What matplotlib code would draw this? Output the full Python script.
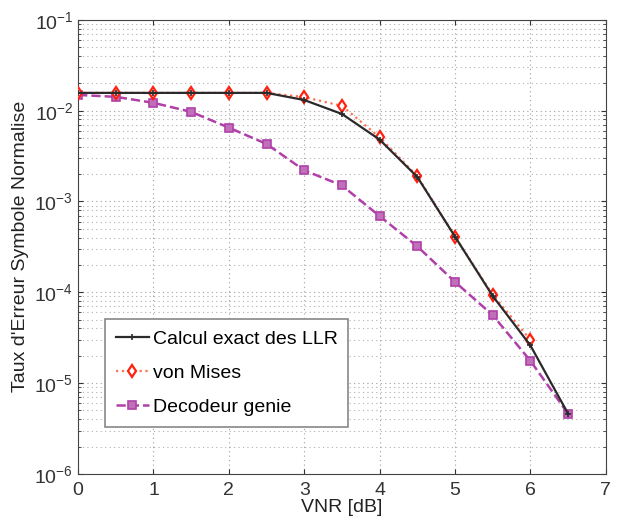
import numpy as np
import matplotlib.pyplot as plt

plt.rcParams['font.family'] = ['Liberation Sans', 'DejaVu Sans']

vnr = [0, 0.5, 1, 1.5, 2, 2.5, 3, 3.5, 4, 4.5, 5, 5.5, 6, 6.5]
exact = [0.0157, 0.0157, 0.0157, 0.0157, 0.0157, 0.0157, 0.0131, 0.0092,
         0.0048, 0.00186, 4.1e-4, 9.1e-5, 2.6e-5, 4.6e-6]
vnr_vm = [0, 0.5, 1, 1.5, 2, 2.5, 3, 3.5, 4, 4.5, 5, 5.5, 6]
von_mises = [0.0157, 0.0157, 0.0157, 0.0157, 0.0157, 0.0157, 0.0141, 0.0113,
             0.0051, 0.0019, 4.1e-4, 9.4e-5, 3.0e-5]
genie = [0.0149, 0.0142, 0.0122, 0.0097, 0.0065, 0.0043, 0.0022, 0.0015,
         6.9e-4, 3.2e-4, 1.3e-4, 5.6e-5, 1.76e-5, 4.6e-6]

fig = plt.figure(figsize=(6.2, 5.23), dpi=100)
ax = fig.add_axes([0.126, 0.094, 0.851, 0.868])

ax.semilogy(vnr, exact, '-', color='#2a2a2a', lw=1.6, marker='+', ms=5,
            mew=1.2, label='Calcul exact des LLR', zorder=4)
ax.semilogy(vnr_vm, von_mises, ':', color='#ff7050', lw=1.6, marker='d',
            ms=6, mfc='white', mec='#ff2010', mew=1.6, label='von Mises', zorder=3)
ax.semilogy(vnr, genie, '--', color='#b040a8', lw=1.8, marker='s', ms=5.5,
            mfc='#c070b8', mec='#b040a8', mew=1.2, label='Decodeur genie', zorder=2)

ax.set_xlim(0, 7)
ax.set_ylim(1e-6, 1e-1)
ax.set_xticks(range(8))
ax.grid(True, which='major', ls=(0, (1, 3)), color='#a0a0a0', lw=0.8)
ax.grid(True, which='minor', ls=(0, (1, 3)), color='#b0b0b0', lw=0.8)
ax.tick_params(which='both', direction='in', top=True, right=True, labelsize=14,
               colors='#333333')
ax.tick_params(axis='x', pad=6)
for s in ax.spines.values():
    s.set_color('#444444')

ax.set_xlabel('VNR [dB]', fontsize=14, labelpad=0, color='#222222')
ax.set_ylabel("Taux d'Erreur Symbole Normalise", fontsize=14, color='#222222')

leg = ax.legend(loc='lower left', bbox_to_anchor=(0.051, 0.104), fontsize=14,
                fancybox=False, framealpha=1, edgecolor='#888888',
                handlelength=1.7, handletextpad=0.2, borderpad=0.55,
                labelspacing=0.85, borderaxespad=0)
leg.get_frame().set_linewidth(1.2)

fig.savefig('out.png', dpi=100)
